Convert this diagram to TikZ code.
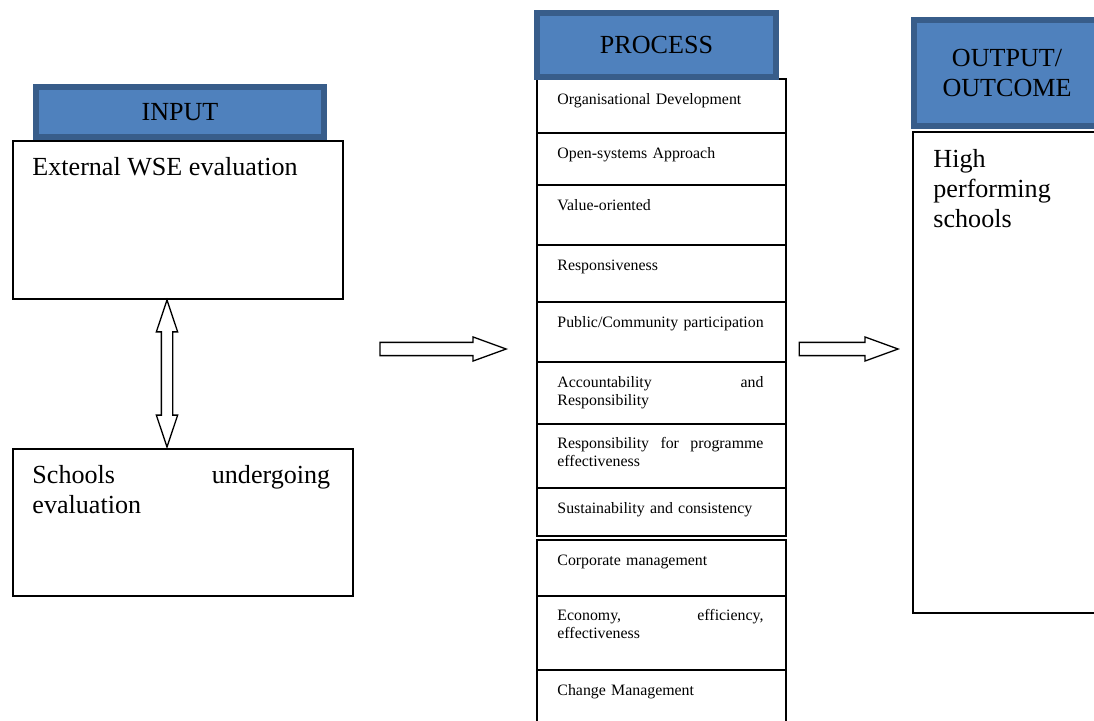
\documentclass[tikz,border=0pt]{standalone}
\usepackage{fontspec}
\setmainfont{Liberation Serif}
\usetikzlibrary{shapes.arrows, positioning}

\definecolor{hdrfill}{HTML}{4F81BD}
\definecolor{hdrline}{HTML}{385D8A}

\tikzset{
  hdr/.style = {draw=hdrline, line width=2.8pt, fill=hdrfill, inner sep=0pt,
    align=center, font=\fontsize{12}{13.8}\selectfont},
  box/.style = {draw, line width=0.9pt, inner sep=0pt, anchor=north west},
  row/.style = {box, minimum width=114.5pt},
  bigtxt/.style = {anchor=base west, inner sep=0pt, align=left,
    font=\fontsize{12}{13.8}\selectfont},
  smalltxt/.style = {anchor=base west, inner sep=0pt, text width=94.8pt,
    align=left, font=\fontsize{7.3}{8.3}\selectfont},
  fatarrow/.style = {single arrow, draw, line width=0.6pt, inner xsep=0pt,
    inner ysep=2.75pt, single arrow head extend=2.5pt,
    single arrow tip angle=40},
  fatdouble/.style = {double arrow, draw, line width=0.6pt, inner xsep=0pt,
    inner ysep=2.3pt, double arrow head extend=2.3pt,
    double arrow tip angle=37, rotate=90}
}

\begin{document}
\begin{tikzpicture}[x=0.46pt, y=-0.46pt]
    \useasboundingbox (0,0) rectangle (1094,720);

    % input side
    \node[box, minimum width=151.8pt, minimum height=72.7pt] at (12,140) (inbox) {};
    \node[hdr, minimum width=132.5pt, minimum height=23pt] at (180,112) (inhdr) {INPUT};
    \node[bigtxt] at (32,175) (intxt) {External WSE evaluation};
    \node[box, minimum width=156.4pt, minimum height=67.6pt] at (12,448) (schools) {};
    \node[bigtxt, text width=137pt] at (32,483) (schtxt) {Schools\hfill undergoing\\evaluation};
    \node[fatdouble, minimum height=67.6pt] at (167,373.5) (link) {};

    % process column
    \node[row, minimum height=24.8pt] at (536,78) (r1) {};
    \node[row, minimum height=23.9pt] at (536,132) (r2) {};
    \node[row, minimum height=27.6pt] at (536,184) (r3) {};
    \node[row, minimum height=26.2pt] at (536,244) (r4) {};
    \node[row, minimum height=27.6pt] at (536,301) (r5) {};
    \node[row, minimum height=28.5pt] at (536,361) (r6) {};
    \node[row, minimum height=29.4pt] at (536,423) (r7) {};
    \node[row, minimum height=22.1pt] at (536,487) (r8) {};
    \node[row, minimum height=25.8pt] at (536,539) (r9) {};
    \node[row, minimum height=34.0pt] at (536,595) (r10) {};
    \node[row, minimum height=24.4pt] at (536,669) (r11) {};
    \node[hdr, minimum width=109.9pt, minimum height=29.4pt] at (656.5,45) (prochdr) {PROCESS};

    \node[smalltxt] at (557,104) (t1) {Organisational Development};
    \node[smalltxt] at (557,158) (t2) {Open-systems Approach};
    \node[smalltxt] at (557,210) (t3) {Value-oriented};
    \node[smalltxt] at (557,270) (t4) {Responsiveness};
    \node[smalltxt, text width=102pt] at (557,327) (t5) {Public/Community participation};
    \node[smalltxt] at (557,387) (t6) {Accountability\hfill and\\Responsibility};
    \node[smalltxt] at (557,448) (t7) {Responsibility\hfill for\hfill programme\\effectiveness};
    \node[smalltxt] at (557,513) (t8) {Sustainability and consistency};
    \node[smalltxt] at (557,565) (t9) {Corporate management};
    \node[smalltxt] at (557,620) (t10) {Economy,\hfill efficiency,\\effectiveness};
    \node[smalltxt] at (557,695) (t11) {Change Management};

    % output side
    \node[box, minimum width=86.9pt, minimum height=221.3pt] at (912,131) (outbox) {};
    \node[hdr, minimum width=85.6pt, minimum height=48.8pt] at (1007,73) (outhdr) {OUTPUT/\\OUTCOME};
    \node[bigtxt, text width=70pt] at (933,167) (outtxt) {High\\performing\\schools};

    % flow
    \node[fatarrow, minimum height=58pt] at (434,349) (toproc) {};
    \node[fatarrow, minimum height=45.5pt] at (839.5,349) (toout) {};
\end{tikzpicture}
\end{document}
